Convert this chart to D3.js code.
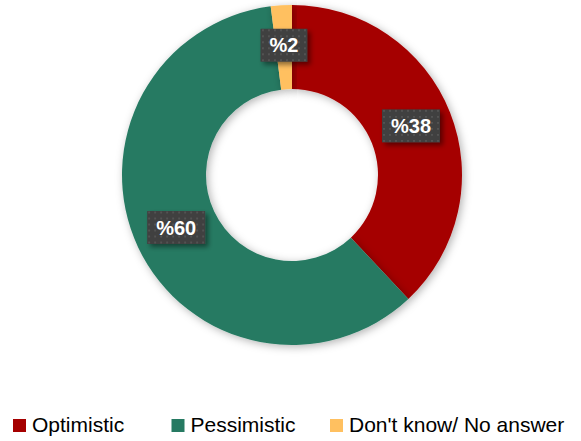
<!DOCTYPE html>
<html>
<head>
<meta charset="utf-8">
<script src="https://cdn.jsdelivr.net/npm/d3@7"></script>
<style>
  body { margin: 0; background: #fff; }
  svg { display: block; }
</style>
</head>
<body>
<div class="chart"></div>
<script>
const w = 581;
const h = 441;

// data
const categories = ['Optimistic', 'Pessimistic', "Don't know/ No answer"];
const values = [38, 60, 2];
const colors = ['#a50000', '#267a62', '#ffc060'];

const cx = 292;
const cy = 175;
const outerR = 170;
const innerR = 86;

const svg = d3.select('.chart')
  .append('svg')
  .attr('width', w)
  .attr('height', h);

const defs = svg.append('defs');

// soft shadow round the ring
const shadow = defs.append('filter')
  .attr('id', 'shadow')
  .attr('x', '-20%').attr('y', '-20%')
  .attr('width', '140%').attr('height', '140%');
shadow.append('feDropShadow')
  .attr('dx', 2).attr('dy', 2)
  .attr('stdDeviation', 4)
  .attr('flood-color', '#000')
  .attr('flood-opacity', 0.3);

const boxShadow = defs.append('filter')
  .attr('id', 'boxShadow')
  .attr('x', '-30%').attr('y', '-30%')
  .attr('width', '160%').attr('height', '160%');
boxShadow.append('feDropShadow')
  .attr('dx', 3).attr('dy', 3)
  .attr('stdDeviation', 2.5)
  .attr('flood-color', '#000')
  .attr('flood-opacity', 0.45);

// dotted fill for the label boxes
const pat = defs.append('pattern')
  .attr('id', 'dots')
  .attr('patternUnits', 'userSpaceOnUse')
  .attr('width', 6).attr('height', 6);
pat.append('rect').attr('width', 6).attr('height', 6).attr('fill', '#3f3f3f');
pat.append('rect').attr('x', 2).attr('y', 2).attr('width', 2).attr('height', 2).attr('fill', '#525252');

const pie = d3.pie().sort(null).value((d) => d);
const arcs = pie(values);

const arc = d3.arc().innerRadius(innerR).outerRadius(outerR);
const labelArc = d3.arc().innerRadius(128).outerRadius(128);

const g = svg.append('g').attr('transform', `translate(${cx},${cy})`);

g.selectAll('path.slice')
  .data(arcs)
  .enter()
  .append('path')
  .attr('class', 'slice')
  .attr('d', arc)
  .attr('fill', (d, i) => colors[i])
  .attr('filter', 'url(#shadow)');

// labels
const labels = g.selectAll('g.label')
  .data(arcs)
  .enter()
  .append('g')
  .attr('class', 'label')
  .attr('transform', (d) => {
    const c = labelArc.centroid(d);
    return `translate(${c[0]},${c[1] - 2})`;
  });

labels.each(function (d) {
  const lg = d3.select(this);
  const rect = lg.append('rect')
    .attr('fill', 'url(#dots)')
    .attr('filter', 'url(#boxShadow)');
  const t = lg.append('text')
    .attr('text-anchor', 'middle')
    .attr('dy', '0.36em')
    .attr('fill', '#fff')
    .attr('font-family', 'Liberation Sans, Arial, sans-serif')
    .attr('font-weight', 'bold')
    .attr('font-size', 20)
    .text('%' + d.data);
  const tw = t.node().getComputedTextLength();
  const bw = tw + 18;
  const bh = 33;
  rect.attr('x', -bw / 2).attr('y', -bh / 2).attr('width', bw).attr('height', bh);
});

// legend
const legend = svg.append('g').attr('transform', 'translate(13,419)');
const item = legend.selectAll('g')
  .data(categories)
  .enter()
  .append('g')
  .attr('transform', (d, i) => `translate(${i * 158.5},0)`);

item.append('rect')
  .attr('width', 13)
  .attr('height', 13)
  .attr('fill', (d, i) => colors[i]);

item.append('text')
  .attr('x', 19)
  .attr('y', 13)
  .attr('font-family', 'Liberation Sans, Arial, sans-serif')
  .attr('font-size', 21)
  .attr('fill', '#000')
  .text((d) => d);
</script>
</body>
</html>
